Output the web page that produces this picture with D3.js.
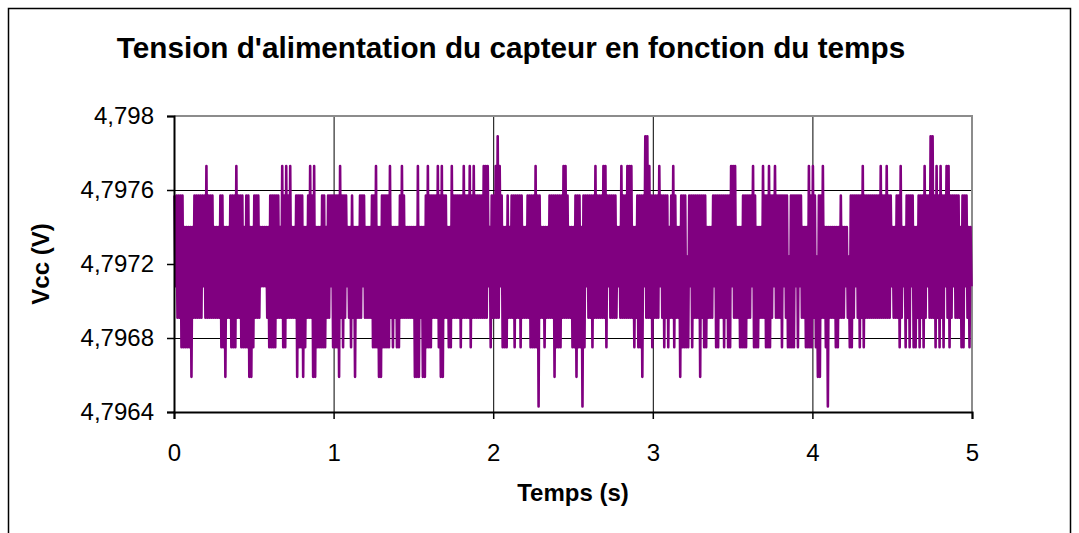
<!DOCTYPE html>
<html>
<head>
<meta charset="utf-8">
<title>Tension d'alimentation du capteur en fonction du temps</title>
<style>
  body { margin: 0; background: #fff; }
  text { font-family: Arial, "Liberation Sans", sans-serif; }
</style>
</head>
<body>
<script src="https://d3js.org/d3.v7.min.js"></script>
<script>

// quantized Vcc levels seen on the trace (V), index 0..9
var levels = [4.79643, 4.79659, 4.79675, 4.79691, 4.79708, 4.79724, 4.79740, 4.79757, 4.79773, 4.79789];

// one digit per 1/80 s slot (10 slots per group):
// highest level reached in the slot ...
var highs = [
  "7777766666","7777778777","6667766677","7877767766","7776666677",
  "7776878786","6777766787","8666776777","7778777667","6667776667",
  "7866777786","6667876666","6686667877","7787877668","7777787787",
  "8777788867","7898766767","7777766777","7877666677","7777788766",
  "6777677777","7877788777","7766877888","6677779987","7778777767",
  "8766777577","7777777666","7777777778","8866677777","8766687787",
  "7877777757","7777766687","8757786666","6666766657","7777787777",
  "7777877877","6677866777","7667778779","9787877887","7777677766"
].join("");

// ... and lowest level reached in the slot
var lows = [
  "4332222213","3333433333","3332213322","2332222112","3334443222",
  "2333223333","3122123331","1222223342","2213234323","1333433332",
  "2211222232","3223333333","1113112223","3321133223","3332333323",
  "3333333423","3334222333","2332333322","2203323333","1222333332",
  "2122024332","3333332433","3343333333","2322143332","3334323233",
  "2331222242","3331322333","4223323224","3332222334","2223332223",
  "4333243222","2424332222","3211332033","3223334322","3432323333",
  "3333333334","3332342324","2232323433","3232324323","4333224324"
].join("");

var xTicks = [0, 1, 2, 3, 4, 5];
var yTicks = [4.7964, 4.7968, 4.7972, 4.7976, 4.798];
var yTickLabels = ["4,7964", "4,7968", "4,7972", "4,7976", "4,798"];

var W = 1079, H = 533;
var margin = { top: 116, left: 174, right: 1079 - 972, bottom: 533 - 412 };
var width = W - margin.left - margin.right,
    height = H - margin.top - margin.bottom;

var svg = d3.select("body").append("svg")
    .attr("width", W)
    .attr("height", H);

svg.append("rect")
    .attr("width", W).attr("height", H)
    .attr("fill", "#fff");

// chart area frame
svg.append("rect")
    .attr("x", 8.5).attr("y", 8.5)
    .attr("width", 1062).attr("height", 600)
    .attr("fill", "none")
    .attr("stroke", "#000")
    .attr("stroke-width", 1.5);

var x = d3.scaleLinear().domain([0, 5]).range([0, width]);
var y = d3.scaleLinear().domain([4.7964, 4.798]).range([height, 0]);

var g = svg.append("g")
    .attr("transform", "translate(" + margin.left + "," + margin.top + ")");

// gridlines
g.append("g")
    .attr("class", "grid")
    .call(d3.axisLeft(y).tickValues(yTicks.slice(1, 4)).tickSize(-width).tickFormat(""))
    .call(function(s) { s.select(".domain").remove(); })
    .selectAll("line").attr("stroke", "#000").attr("stroke-width", 1);

g.append("g")
    .attr("class", "grid")
    .attr("transform", "translate(0," + height + ")")
    .call(d3.axisBottom(x).tickValues(xTicks.slice(1, 5)).tickSize(height).tickSizeOuter(0).tickFormat(""))
    .call(function(s) { s.select(".domain").remove(); })
    .selectAll("line").attr("stroke", "#000").attr("stroke-width", 1)
    .attr("y2", -height);

// plot area border (top / right are grey)
g.append("path")
    .attr("d", "M0,0H" + width + "V" + height)
    .attr("fill", "none")
    .attr("stroke", "#8c8c8c")
    .attr("stroke-width", 2);

// build the trace: each slot goes up to its high then down to its low
var slot = 5 / highs.length;
var data = [];
for (var i = 0; i < highs.length; i++) {
    data.push({ t: (i + 0.25) * slot, v: levels[+highs[i]] });
    data.push({ t: (i + 0.75) * slot, v: levels[+lows[i]] });
}

var line = d3.line()
    .x(function(d) { return x(d.t); })
    .y(function(d) { return y(d.v); });

g.append("path")
    .datum(data)
    .attr("d", line)
    .attr("fill", "none")
    .attr("stroke", "#800080")
    .attr("stroke-width", 2.6)
    .attr("stroke-linejoin", "round");

// axes
var gY = g.append("g")
    .call(d3.axisLeft(y).tickValues(yTicks).tickSize(7).tickPadding(13)
        .tickFormat(function(d, i) { return yTickLabels[i]; }));

var gX = g.append("g")
    .attr("transform", "translate(0," + height + ")")
    .call(d3.axisBottom(x).tickValues(xTicks).tickSize(7).tickPadding(25)
        .tickFormat(d3.format("d")));

[gX, gY].forEach(function(a) {
    a.select(".domain").attr("stroke", "#000").attr("stroke-width", 2);
    a.selectAll(".tick line").attr("stroke", "#000").attr("stroke-width", 1.5);
    a.selectAll(".tick text")
        .attr("fill", "#000")
        .style("font-family", "Arial, 'Liberation Sans', sans-serif")
        .style("font-size", "24px");
});

// titles
svg.append("text")
    .attr("x", 511).attr("y", 58)
    .attr("text-anchor", "middle")
    .style("font-size", "29.7px")
    .style("font-weight", "bold")
    .text("Tension d'alimentation du capteur en fonction du temps");

svg.append("text")
    .attr("x", 573).attr("y", 501)
    .attr("text-anchor", "middle")
    .style("font-size", "24px")
    .style("font-weight", "bold")
    .text("Temps (s)");

svg.append("text")
    .attr("transform", "translate(49,264) rotate(-90)")
    .attr("text-anchor", "middle")
    .style("font-size", "24px")
    .style("font-weight", "bold")
    .text("Vcc (V)");

</script>
</body>
</html>
